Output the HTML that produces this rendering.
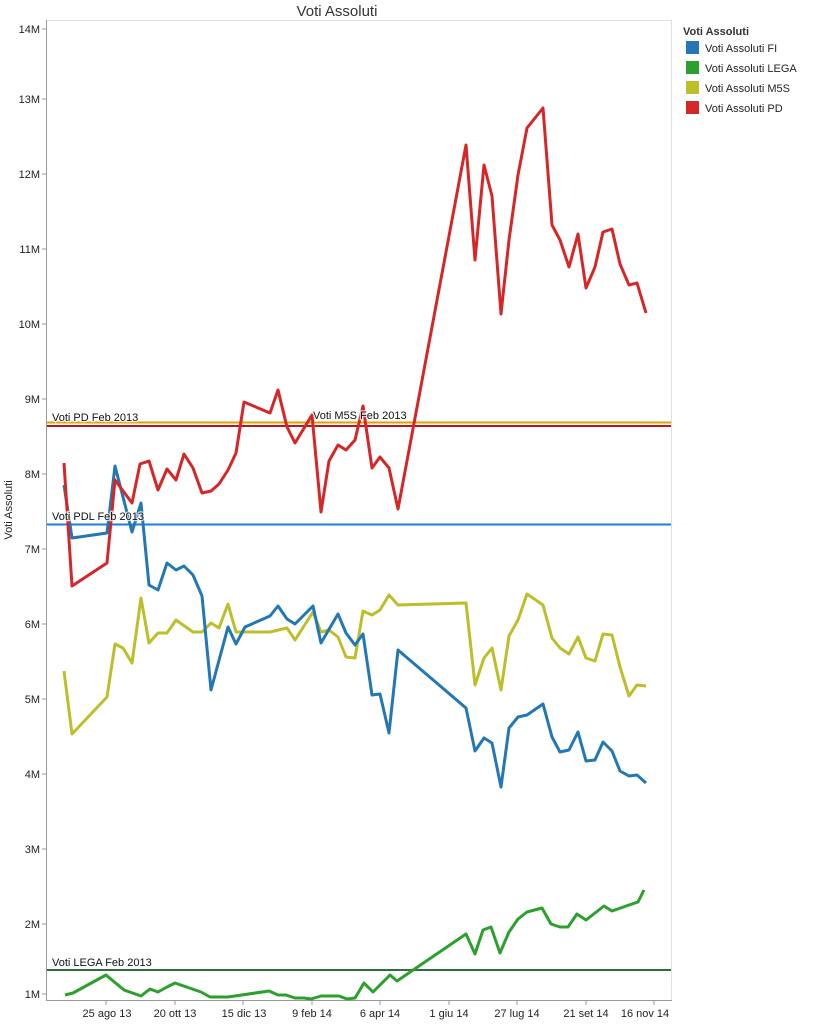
<!DOCTYPE html>
<html><head><meta charset="utf-8"><style>
body{margin:0;background:#fff;width:824px;height:1031px;overflow:hidden;font-family:"Liberation Sans",sans-serif}
</style></head><body>
<svg width="824" height="1031" xmlns="http://www.w3.org/2000/svg" font-family="Liberation Sans, sans-serif">
<text x="337" y="16" font-size="15" text-anchor="middle" fill="#333">Voti Assoluti</text>
<rect x="46.5" y="20.5" width="625" height="980" fill="none" stroke="#e0e0e0"/>
<line x1="46.5" y1="20" x2="46.5" y2="1001" stroke="#999"/>
<line x1="46" y1="1000.5" x2="672" y2="1000.5" stroke="#999"/>
<g font-size="11" fill="#222" text-anchor="end">
<text x="40" y="33">14M</text><line x1="42" y1="29" x2="46" y2="29" stroke="#999"/>
<text x="40" y="103">13M</text><line x1="42" y1="99" x2="46" y2="99" stroke="#999"/>
<text x="40" y="178">12M</text><line x1="42" y1="174" x2="46" y2="174" stroke="#999"/>
<text x="40" y="253">11M</text><line x1="42" y1="249" x2="46" y2="249" stroke="#999"/>
<text x="40" y="328">10M</text><line x1="42" y1="324" x2="46" y2="324" stroke="#999"/>
<text x="40" y="403">9M</text><line x1="42" y1="399" x2="46" y2="399" stroke="#999"/>
<text x="40" y="478">8M</text><line x1="42" y1="474" x2="46" y2="474" stroke="#999"/>
<text x="40" y="553">7M</text><line x1="42" y1="549" x2="46" y2="549" stroke="#999"/>
<text x="40" y="628">6M</text><line x1="42" y1="624" x2="46" y2="624" stroke="#999"/>
<text x="40" y="703">5M</text><line x1="42" y1="699" x2="46" y2="699" stroke="#999"/>
<text x="40" y="778">4M</text><line x1="42" y1="774" x2="46" y2="774" stroke="#999"/>
<text x="40" y="853">3M</text><line x1="42" y1="849" x2="46" y2="849" stroke="#999"/>
<text x="40" y="928">2M</text><line x1="42" y1="924" x2="46" y2="924" stroke="#999"/>
<text x="40" y="998">1M</text><line x1="42" y1="994" x2="46" y2="994" stroke="#999"/>
</g>
<text transform="translate(12,510) rotate(-90)" font-size="11" fill="#222" text-anchor="middle">Voti Assoluti</text>
<g stroke="#999">
<line x1="106" y1="1000" x2="106" y2="1005"/><line x1="175" y1="1000" x2="175" y2="1005"/><line x1="243" y1="1000" x2="243" y2="1005"/><line x1="312" y1="1000" x2="312" y2="1005"/><line x1="380" y1="1000" x2="380" y2="1005"/><line x1="449" y1="1000" x2="449" y2="1005"/><line x1="517" y1="1000" x2="517" y2="1005"/><line x1="586" y1="1000" x2="586" y2="1005"/><line x1="654" y1="1000" x2="654" y2="1005"/>
</g>
<g font-size="11" fill="#222" text-anchor="middle">
<text x="107" y="1017">25 ago 13</text><text x="175" y="1017">20 ott 13</text><text x="244" y="1017">15 dic 13</text><text x="312" y="1017">9 feb 14</text><text x="380" y="1017">6 apr 14</text><text x="449" y="1017">1 giu 14</text><text x="517" y="1017">27 lug 14</text><text x="586" y="1017">21 set 14</text><text x="645" y="1017">16 nov 14</text>
</g>
<line x1="47" y1="422.5" x2="671" y2="422.5" stroke="#d9a400" stroke-width="2"/>
<line x1="47" y1="426" x2="671" y2="426" stroke="#b8161c" stroke-width="2"/>
<line x1="47" y1="524.5" x2="671" y2="524.5" stroke="#1a7ee0" stroke-width="2"/>
<line x1="47" y1="970" x2="671" y2="970" stroke="#2e6e3e" stroke-width="2"/>
<g fill="none" stroke-width="3" stroke-linejoin="round">
<polyline stroke="#bcbf2a" points="64,671 72,734 107,697 115,644 123,648 132,663 141,598 149,643 158,633 167,633 176,620 193,632 202,632 211,623 219,628 228,604 236,632 270,632 287,628 295,640 313,612 321,632 329,630 338,637 346,657 355,658 363,611 372,615 380,610 389,595 398,605 466,603 475,685 484,658 492,648 501,690 509,636 518,620 527,594 543,605 552,638 560,648 569,654 578,637 586,658 595,661 603,634 612,635 620,667 629,696 637,685 646,686"/>
<polyline stroke="#2277b4" points="64,485 72,538 107,533 115,466 132,532 141,503 149,585 158,590 167,563 176,570 184,566 193,575 202,596 211,690 228,627 236,644 245,627 270,616 278,606 287,619 295,624 313,606 321,643 338,614 346,633 355,645 363,634 372,695 380,694 389,733 398,650 466,708 475,751 484,738 492,743 501,787 509,728 518,717 527,715 543,704 552,737 560,752 569,750 578,732 586,761 595,760 603,742 612,751 620,771 629,776 637,775 646,783"/>
<polyline stroke="#d62728" points="64,463 72,586 107,563 115,480 132,503 140,464 149,461 158,490 167,469 176,480 184,454 193,468 202,493 211,491 219,484 228,470 236,453 244,402 270,413 278,390 287,427 295,443 312,415 321,512 329,461 338,445 346,450 355,440 363,406 372,468 380,457 389,468 398,509 466,145 475,260 484,165 492,196 501,314 509,240 518,175 527,128 543,108 552,225 560,240 569,267 578,234 586,288 595,267 603,232 612,229 620,264 629,285 637,283 646,313"/>
<polyline stroke="#2ca02c" points="65,995 73,993 106,975 124,990 141,996 150,989 158,992 167,987 175,983 201,992 210,997 228,997 269,991 278,995 286,995 295,998 304,998 311,999 321,996 339,996 347,999 355,998 364,983 373,992 390,975 397,981 466,934 475,954 483,930 491,927 500,953 509,932 518,919 527,912 542,908 551,924 560,927 568,927 577,914 586,920 604,906 612,911 629,905 638,902 644,890"/>
</g>
<g font-size="11" fill="#111" stroke="#fff" stroke-width="2.5" paint-order="stroke" stroke-opacity="0.7">
<text x="52" y="421">Voti PD Feb 2013</text>
<text x="313" y="419">Voti M5S Feb 2013</text>
<text x="52" y="520">Voti PDL Feb 2013</text>
<text x="52" y="966">Voti LEGA Feb 2013</text>
</g>
<text x="683" y="35" font-size="11" font-weight="bold" fill="#333">Voti Assoluti</text>
<g font-size="11" fill="#222">
<rect x="686" y="41" width="13" height="13" fill="#2277b4"/><text x="705" y="52">Voti Assoluti FI</text>
<rect x="686" y="61" width="13" height="13" fill="#2ca02c"/><text x="705" y="72">Voti Assoluti LEGA</text>
<rect x="686" y="81" width="13" height="13" fill="#bcbf2a"/><text x="705" y="92">Voti Assoluti M5S</text>
<rect x="686" y="101" width="13" height="13" fill="#d62728"/><text x="705" y="112">Voti Assoluti PD</text>
</g>
</svg>
</body></html>
